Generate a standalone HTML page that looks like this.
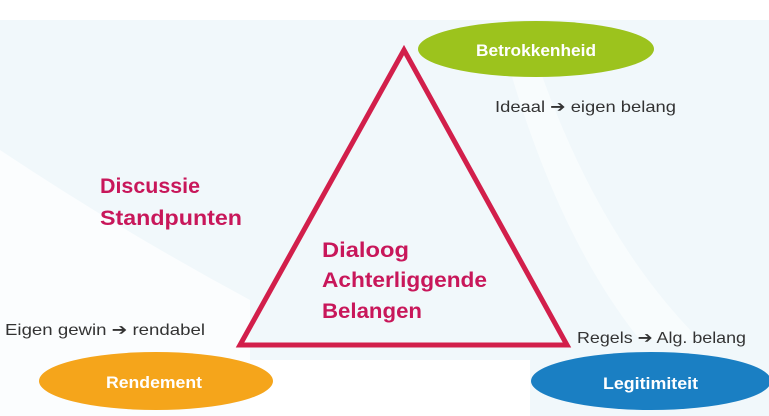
<!DOCTYPE html>
<html><head><meta charset="utf-8"><style>
html,body{margin:0;padding:0;background:#fff}
svg{display:block}
text{font-family:"Liberation Sans",sans-serif}
.ar{font-family:"DejaVu Sans",sans-serif;font-weight:bold}
</style></head><body>
<svg width="769" height="416" viewBox="0 0 769 416" xmlns="http://www.w3.org/2000/svg">
<rect width="769" height="416" fill="#fff"/>
<path d="M0 20 L769 20 L769 416 L0 416 Z" fill="#f1f8fb"/>
<path d="M0 150 Q120 230 250 300 L250 416 L0 416 Z" fill="#fbfdfe"/>
<path d="M250 360 L530 360 L530 416 L250 416 Z" fill="#fff"/>
<path d="M510 70 Q560 240 640 340 L700 340 Q600 240 540 70 Z" fill="#f8fcfd"/>
<polygon points="404,50 240,345 567,345" fill="none" stroke="#d21f4b" stroke-width="5" stroke-linejoin="miter"/>
<ellipse cx="536" cy="49" rx="118" ry="28" fill="#9cc31d"/>
<ellipse cx="156" cy="381" rx="117" ry="29" fill="#f5a51b"/>
<ellipse cx="651" cy="381" rx="120" ry="29" fill="#1a7fc3"/>
<text x="476" y="56" fill="#fff" font-size="17" font-weight="bold" textLength="120" lengthAdjust="spacingAndGlyphs">Betrokkenheid</text>
<text x="106" y="388" fill="#fff" font-size="17" font-weight="bold" textLength="96" lengthAdjust="spacingAndGlyphs">Rendement</text>
<text x="603" y="389" fill="#fff" font-size="17" font-weight="bold" textLength="95" lengthAdjust="spacingAndGlyphs">Legitimiteit</text>
<text x="495" y="112" fill="#333" font-size="16" textLength="181" lengthAdjust="spacingAndGlyphs">Ideaal <tspan class="ar">➔</tspan> eigen belang</text>
<text x="5" y="335" fill="#333" font-size="16" textLength="200" lengthAdjust="spacingAndGlyphs">Eigen gewin <tspan class="ar">➔</tspan> rendabel</text>
<text x="577" y="343" fill="#333" font-size="16" textLength="169" lengthAdjust="spacingAndGlyphs">Regels <tspan class="ar">➔</tspan> Alg. belang</text>
<g fill="#c8175a" font-size="21" font-weight="bold">
<text x="100" y="193" textLength="100" lengthAdjust="spacingAndGlyphs">Discussie</text>
<text x="100" y="225" textLength="142" lengthAdjust="spacingAndGlyphs">Standpunten</text>
<text x="322" y="257" textLength="87" lengthAdjust="spacingAndGlyphs">Dialoog</text>
<text x="322" y="287" textLength="165" lengthAdjust="spacingAndGlyphs">Achterliggende</text>
<text x="322" y="318" textLength="100" lengthAdjust="spacingAndGlyphs">Belangen</text>
</g>
</svg>
</body></html>
